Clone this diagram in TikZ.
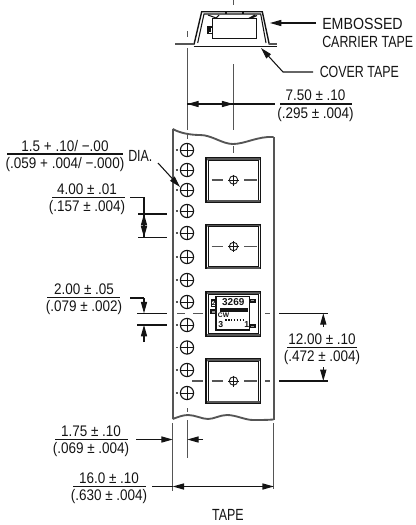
\documentclass[tikz,border=0pt]{standalone}
\usepackage{fontspec}
\setmainfont{Liberation Sans}
\newfontfamily\lblf[FakeStretch=0.77]{Liberation Sans}
\newfontfamily\lblwf[FakeStretch=0.88]{Liberation Sans}
\newfontfamily\dimf[FakeStretch=0.88]{Liberation Sans}
\usetikzlibrary{arrows.meta}
\definecolor{ink}{HTML}{141414}
\definecolor{midg}{HTML}{555555}
\tikzset{
  ln/.style={draw=ink,line width=0.8pt},
  thin ln/.style={draw=ink,line width=0.65pt},
  wall/.style={draw=midg,line width=1.4pt},
  cl/.style={draw=midg,line width=0.85pt},
  arr/.style={ln,-{Stealth[length=8.5pt,width=4.6pt,inset=0pt]}},
  lbl/.style={inner sep=0pt,text=ink,font=\lblf\fontsize{12.1}{13}\selectfont},
  lblw/.style={inner sep=0pt,text=ink,font=\lblwf\fontsize{12.1}{13}\selectfont},
  dimt/.style={inner sep=0pt,text=ink,font=\dimf\fontsize{11.5}{13}\selectfont},
  chip/.style={inner sep=0pt,text=ink,font=\bfseries\fontsize{#1}{#1}\selectfont},
}
% name, centre x, rule y, rule left, rule right, numerator, denominator
\newcommand{\fracdim}[7]{%
  \node[dimt] (#1n) at (#2,#3-8.3) {#6};
  \node[dimt] (#1d) at (#2,#3+10.3) {#7};
  \draw[ln] (#4,#3) -- (#5,#3);
}
\newcommand{\hole}[1]{%
  \draw[ln,line width=0.85pt] (187,#1) circle (6.6);
  \draw[thin ln] (180.4,#1) -- (193.6,#1) (187,#1-6.6) -- (187,#1+6.6);
  \draw[cl] (175.8,#1) -- (178,#1);
}
\newcommand{\pocket}[1]{%
  \draw[ln,line width=1pt] (206,#1) rectangle (260.7,#1+44.5);
  \draw[thin ln] (208.3,#1+2.3) rectangle (258.4,#1+42);
  \draw[thin ln] (206,#1) -- (208.3,#1+2.3) (260.7,#1) -- (258.4,#1+2.3);
  \draw[midg,line width=1.5pt] (207,#1+43.2) -- (259.7,#1+43.2);
  \draw[midg,line width=1.2pt] (207,#1+1.2) -- (259.7,#1+1.2);
}
\newcommand{\cross}[1]{%
  \draw[thin ln] (233.5,#1) circle (4.2);
  \draw[thin ln] (228,#1) -- (239,#1) (233.5,#1-5.5) -- (233.5,#1+5.5);
  \draw[cl] (211.5,#1) -- (222.5,#1) (244,#1) -- (257,#1);
}
\begin{document}
\begin{tikzpicture}[x=0.75pt,y=-0.75pt]
\useasboundingbox (0,0) rectangle (415,525);
% ---- carrier cross-section
\draw[ln,line width=1.05pt] (194,44.5) -- (201.7,11.7) -- (262.3,11.7) -- (269.3,44.5);
\draw[ln] (197.7,43) -- (204,14) -- (260.7,14) -- (266,43);
\draw[wall,line width=1.6pt] (175,44) -- (194,44);
\draw[wall,line width=1.6pt] (269,44) -- (276.7,44);
\draw[ln,line width=1.2pt] (193.5,46.3) -- (276.7,46.3);
\draw[ln] (212.3,18.3) rectangle (256.7,38.7);
\draw[ln] (212.3,27) -- (208,27) -- (208,29) -- (210,29) -- (210,31) -- (208,31) -- (208,33.5) -- (212.3,33.5);
\draw[ln] (208,15) -- (217,18.3) (219,15) -- (216,18.3) (249,18.3) -- (255,15) (251,18.3) -- (257,15.5);
\draw[ln] (226,12) -- (226,14) (243,12) -- (243,14);
% ---- centre lines
\draw[cl] (233.3,0) -- (233.3,5) (233.3,64) -- (233.3,130) (233.3,146) -- (233.3,153);
\draw[cl] (187.3,31) -- (187.3,37) (187.3,48) -- (187.3,130) (187.3,133) -- (187.3,139);
\draw[cl] (187.3,408) -- (187.3,412) (187.3,420) -- (187.3,458);
% ---- tape outline
\draw[wall] (172.7,129) .. controls (180,133) and (190,135) .. (200,135)
  .. controls (212,135) and (222,144) .. (233,144)
  .. controls (245,144) and (258,136) .. (273.5,137);
\draw[wall] (172.7,419) .. controls (178,417) and (183,415) .. (188,415)
  .. controls (195,415) and (202,419) .. (208,419)
  .. controls (214,419) and (220,415) .. (227,415)
  .. controls (236,415) and (245,420) .. (253,420)
  .. controls (260,420) and (267,420) .. (273.5,419.5);
\draw[wall] (172.7,129) -- (172.7,419);
\draw[wall] (273.8,137) -- (273.8,419.5);
\draw[cl] (172.7,423) -- (172.7,491);
\draw[cl] (273.8,423) -- (273.8,489);
% ---- sprocket holes
\foreach \yy in {150,170,190,211,233,257,280,302,325,347.5,370,393} {\hole{\yy}}
% ---- pockets
\pocket{158}\pocket{224.3}\pocket{291.7}\pocket{359}
\cross{180}\cross{246.5}\cross{381}
\draw[cl] (192,381) -- (203,381) (265,381) -- (270,381);
% ---- component in third pocket
\draw[ln,line width=1pt] (216,296.7) rectangle (249.3,330);
\node[chip=7.5] (partno) at (233.3,301.7) {3269};
\fill[ink] (220,308.3) rectangle (248.3,311.7);
\node[chip=5] (cwmark) at (223.5,315.3) {CW};
\draw[ink,line width=1pt,dash pattern=on 1.2pt off 1pt] (225,320) -- (243,320);
\node[chip=6.5] (pinthree) at (220.7,325) {3};
\node[chip=6.5] (pinone) at (246.7,325) {1};
\draw[ln] (211.7,300) rectangle (216,306.7);
\node[chip=5] (pintwo) at (213.8,303.3) {2};
\draw[ln,fill=midg!60] (211,310) rectangle (216,313.3);
\draw[ln,fill=midg!60] (250,299.3) rectangle (255,302);
\draw[ln,fill=midg!60] (250,325) rectangle (255,327.7);
% ---- centre line through third pocket
\draw[cl] (177,313.3) -- (185,313.3) (193,313.3) -- (203,313.3) (265,313.3) -- (270,313.3);
% ---- right labels
\node[lblw,anchor=west] (emb) at (322,23.5) {EMBOSSED};
\node[lbl,anchor=west] (car) at (322,41.5) {CARRIER TAPE};
\node[lbl,anchor=west] (cov) at (319.5,71.5) {COVER TAPE};
\draw[arr] (316,23) -- (270,23);
\draw[arr] (313,72) -- (283,72) -- (261,48);
% ---- 7.50
\fracdim{a}{315.5}{104}{280}{352}{7.50 ± .10}{(.295 ± .004)}
\draw[ln] (187.3,104) -- (275,104);
\draw[arr] (200,104) -- (187.3,104);
\draw[arr] (222,104) -- (233.3,104);
% ---- 1.5 dia
\fracdim{b}{65}{154}{7}{123}{1.5 + .10/ −.00}{(.059 + .004/ −.000)}
\node[lbl,anchor=west] (dia) at (128,156) {DIA.};
\draw[arr] (158,163) -- (180,187);
% ---- 4.00
\fracdim{c}{87}{197.3}{52}{125}{4.00 ± .01}{(.157 ± .004)}
\draw[ln] (130,197.3) -- (144,197.3) -- (144,237.3);
\draw[ln] (138,214) -- (167,214) (138,237.3) -- (167,237.3);
\draw[arr] (144,226) -- (144,214);
\draw[arr] (144,226) -- (144,237.3);
% ---- 2.00
\fracdim{d}{84}{297.3}{47}{120}{2.00 ± .05}{(.079 ± .002)}
\draw[ln] (130,298) -- (144,298);
\draw[arr] (144,298) -- (144,313.3);
\draw[arr] (144,342) -- (144,325);
\draw[ln] (137,313.3) -- (167,313.3) (137,325) -- (167,325);
% ---- 12.00
\fracdim{e}{322}{347.7}{287}{357}{12.00 ± .10}{(.472 ± .004)}
\draw[ln] (279,313.3) -- (328,313.3) (279,381) -- (328,381);
\draw[arr] (323.3,327) -- (323.3,313.3);
\draw[arr] (323.3,367) -- (323.3,381);
% ---- 1.75
\fracdim{f}{91}{439.5}{55}{128}{1.75 ± .10}{(.069 ± .004)}
\draw[arr] (136,439.5) -- (172.7,439.5);
\draw[arr] (203,439.5) -- (187.3,439.5);
% ---- 16.0
\fracdim{g}{109}{486.5}{73}{146}{16.0 ± .10}{(.630 ± .004)}
\draw[ln] (152,486.5) -- (172.7,486.5);
\draw[arr] (200,486.5) -- (172.7,486.5);
\draw[ln] (200,486.5) -- (250,486.5);
\draw[arr] (250,486.5) -- (273.8,486.5);
% ---- caption
\node[lbl] (tape) at (228,514.5) {TAPE};
\end{tikzpicture}
\end{document}
